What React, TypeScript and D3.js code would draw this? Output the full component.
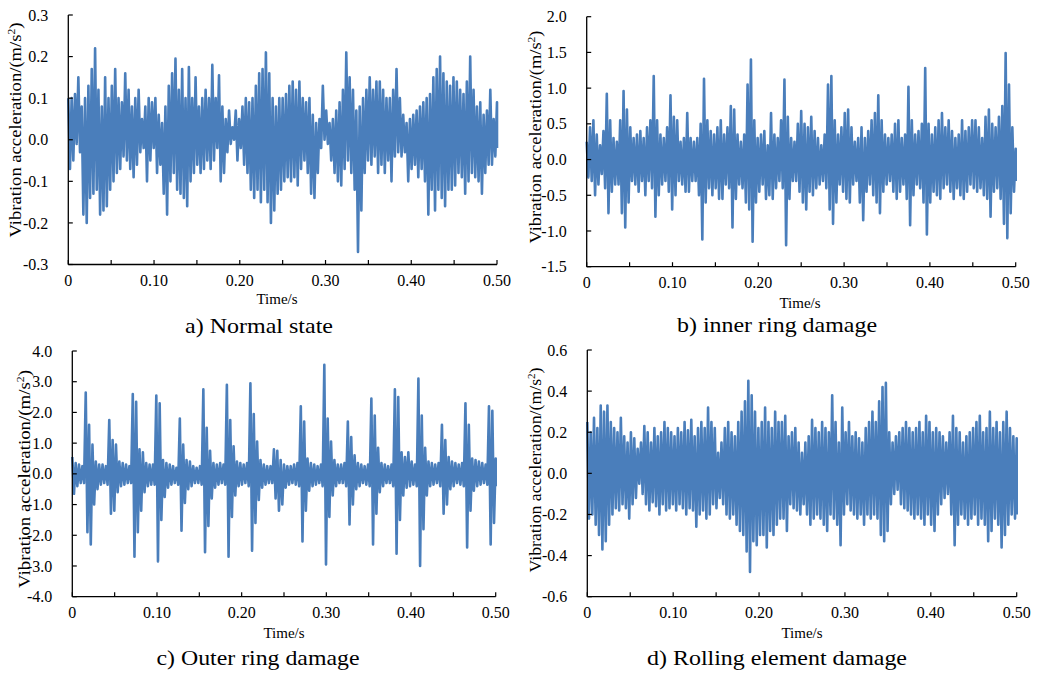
import React from "react";
import * as d3 from "d3";

// ---------- DATA (per-bin max / min envelope) ----------
const xTickValues = [0, 0.05, 0.1, 0.15, 0.2, 0.25, 0.3, 0.35, 0.4, 0.45, 0.5];
const xLabelValues = [0, 0.1, 0.2, 0.3, 0.4, 0.5];
const xLabels = ["0", "0.10", "0.20", "0.30", "0.40", "0.50"];

const yTicksA = [-0.3, -0.2, -0.1, 0, 0.1, 0.2, 0.3];
const yTicksB = [-1.5, -1.0, -0.5, 0, 0.5, 1.0, 1.5, 2.0];
const yTicksC = [-4, -3, -2, -1, 0, 1, 2, 3, 4];
const yTicksD = [-0.6, -0.4, -0.2, 0, 0.2, 0.4, 0.6];

const captions = ["a) Normal state", "b) inner ring damage", "c) Outer ring damage", "d) Rolling element damage"];
const yTitle = "Vibration acceleration/(m/s";
const xTitle = "Time/s";

const normalUpper = [
  0.10,0.10,0.11,0.15,0.08,0.10,0.13,0.17,0.22,0.12,
  0.08,0.15,0.10,0.13,0.17,0.10,0.09,0.16,0.12,0.08,
  0.10,0.12,0.05,0.08,0.10,0.09,0.10,0.06,0.04,0.08,
  0.13,0.16,0.195,0.12,0.17,0.10,0.175,0.10,0.15,0.08,
  0.10,0.12,0.10,0.18,0.10,0.155,0.08,0.05,0.07,0.03,
  0.07,0.05,0.08,0.10,0.09,0.10,0.13,0.16,0.17,0.21,
  0.16,0.10,0.08,0.10,
  0.10,0.11,0.13,0.14,0.12,0.14,0.10,0.09,0.10,0.06,
  0.04,0.05,0.13,0.07,0.04,0.05,0.07,0.09,0.12,0.21,
  0.15,0.12,0.07,0.08,0.10,0.12,0.15,0.12,0.14,0.14,
  0.12,0.10,0.10,0.12,0.17,0.10,0.06,0.04,0.05,0.06,
  0.07,0.08,0.09,0.10,0.11,0.15,0.17,0.20,0.16,0.14,
  0.13,0.15,0.14,0.12,0.11,0.14,0.20,0.12,0.08,0.09,
  0.06,0.07,0.12,0.05,0.09,
];
const normalLower = [
  -0.07,-0.05,-0.01,-0.03,-0.18,-0.20,-0.14,-0.13,-0.12,-0.18,
  -0.17,-0.16,-0.12,-0.10,-0.08,-0.07,-0.04,-0.05,-0.07,-0.09,
  -0.06,-0.03,-0.02,-0.10,-0.05,-0.02,-0.08,-0.06,-0.13,-0.18,
  -0.10,-0.08,-0.12,-0.13,-0.14,-0.16,-0.10,-0.08,-0.06,-0.08,
  -0.07,-0.05,-0.07,-0.05,-0.02,-0.10,-0.08,-0.03,-0.01,0.00,
  -0.05,-0.02,-0.06,-0.08,-0.12,-0.14,-0.12,-0.15,-0.12,-0.15,
  -0.20,-0.17,-0.13,-0.12,
  -0.10,-0.09,-0.10,-0.09,-0.11,-0.07,-0.05,-0.08,-0.13,-0.14,
  -0.08,-0.02,0.00,-0.01,-0.05,-0.08,-0.10,-0.11,-0.07,-0.05,
  -0.08,-0.12,-0.27,-0.17,-0.08,-0.05,-0.06,-0.04,-0.08,-0.06,
  -0.08,-0.05,-0.10,-0.04,-0.03,-0.04,-0.03,-0.10,-0.07,-0.06,
  -0.09,-0.07,-0.10,-0.18,-0.12,-0.17,-0.12,-0.14,-0.16,-0.12,
  -0.12,-0.11,-0.08,-0.09,-0.13,-0.10,-0.08,-0.09,-0.10,-0.13,
  -0.08,-0.06,-0.06,-0.04,-0.02,
];

const innerUpper = [
  0.25,0.45,0.55,0.35,0.20,0.40,0.92,0.55,0.30,0.25,
  0.55,0.96,0.70,0.45,0.30,0.35,0.40,0.30,0.45,0.55,
  1.17,0.55,0.35,0.30,0.45,0.90,0.60,0.55,0.25,0.30,
  0.65,0.30,0.25,0.30,0.50,1.13,0.55,0.40,0.35,0.45,
  0.55,0.35,0.45,0.75,0.70,0.35,0.25,0.35,1.05,1.40,
  0.55,0.30,0.35,0.40,0.20,0.65,0.35,0.30,
  0.55,1.12,0.60,0.30,0.25,0.50,0.68,0.50,0.45,0.60,
  0.40,0.30,0.20,0.35,1.05,1.17,0.55,0.35,0.45,0.65,
  0.70,0.45,0.25,0.30,0.45,0.30,0.40,0.55,0.65,0.90,
  0.55,0.35,0.30,0.35,0.50,0.55,0.30,0.35,1.02,0.55,
  0.35,0.40,0.50,1.28,0.50,0.35,0.45,0.55,0.65,0.45,
  0.55,0.40,0.30,0.35,0.55,0.40,0.45,0.55,0.55,0.45,
  0.30,0.60,0.70,0.50,0.45,0.60,0.75,1.49,1.05,0.45,
  0.15,
];
const innerLower = [
  -0.25,-0.30,-0.50,-0.35,-0.20,-0.40,-0.75,-0.45,-0.35,-0.35,
  -0.75,-0.95,-0.60,-0.30,-0.35,-0.45,-0.30,-0.50,-0.30,-0.40,
  -0.80,-0.50,-0.35,-0.30,-0.45,-0.70,-0.50,-0.30,-0.35,-0.45,
  -0.45,-0.30,-0.30,-0.50,-1.12,-0.60,-0.40,-0.50,-0.40,-0.55,
  -0.55,-0.35,-0.40,-0.95,-0.55,-0.35,-0.40,-0.60,-0.70,-1.15,
  -0.60,-0.45,-0.35,-0.55,-0.50,-0.55,-0.40,-0.30,
  -0.40,-1.20,-0.55,-0.30,-0.30,-0.45,-0.60,-0.70,-0.45,-0.50,
  -0.40,-0.35,-0.30,-0.40,-0.70,-0.90,-0.60,-0.35,-0.45,-0.55,
  -0.60,-0.35,-0.30,-0.60,-0.85,-0.45,-0.35,-0.50,-0.60,-0.75,
  -0.45,-0.35,-0.30,-0.45,-0.55,-0.45,-0.35,-0.55,-0.92,-0.50,
  -0.35,-0.40,-0.60,-1.05,-0.60,-0.45,-0.50,-0.55,-0.40,-0.35,
  -0.45,-0.55,-0.40,-0.50,-0.55,-0.45,-0.35,-0.40,-0.45,-0.40,
  -0.50,-0.55,-0.80,-0.45,-0.40,-0.55,-0.90,-1.10,-0.75,-0.45,
  -0.30,
];

const outerUpper = [
  0.55,0.35,0.30,0.25,2.65,1.60,0.95,0.40,0.30,0.30,
  0.25,1.75,1.10,0.95,0.40,0.35,0.30,0.25,2.60,2.35,
  0.80,0.70,0.35,0.30,0.30,2.55,2.30,0.45,0.35,0.30,
  0.25,0.20,1.80,0.95,0.45,0.40,0.25,0.20,0.25,2.75,
  1.50,0.75,0.35,0.30,0.35,0.30,2.90,1.75,0.90,0.40,
  0.35,0.30,0.35,2.95,1.95,1.05,0.45,0.30,0.25,0.25,
  0.80,0.75,
  0.45,0.30,0.25,0.25,0.30,0.35,2.20,1.70,0.50,0.35,
  0.30,0.25,0.30,3.55,1.80,1.05,0.45,0.30,0.30,0.35,
  1.70,1.20,0.60,0.35,0.30,0.25,0.30,2.45,1.90,0.85,
  0.35,0.30,0.25,0.30,2.75,2.50,0.70,0.55,0.70,0.40,
  0.30,3.10,1.90,0.85,0.40,0.35,0.30,0.35,1.60,1.10,
  0.55,0.40,0.35,0.30,0.35,2.30,1.60,0.50,0.45,0.40,
  0.35,0.30,2.20,2.05,0.50,
];
const outerLower = [
  -0.65,-0.40,-0.30,-0.30,-1.90,-2.30,-1.00,-0.50,-0.35,-0.30,
  -0.35,-1.30,-1.20,-0.60,-0.40,-0.35,-0.30,-0.30,-2.70,-1.90,
  -1.20,-0.60,-0.40,-0.35,-0.35,-2.85,-1.50,-0.75,-0.45,-0.35,
  -0.30,-0.35,-1.85,-0.95,-0.50,-0.40,-0.30,-0.30,-0.35,-2.55,
  -1.70,-0.80,-0.45,-0.35,-0.30,-0.35,-2.70,-1.40,-0.70,-0.40,
  -0.35,-0.30,-0.40,-2.50,-1.60,-0.85,-0.45,-0.35,-0.30,-0.30,
  -0.80,-1.20,
  -1.00,-0.45,-0.35,-0.30,-0.35,-0.40,-2.20,-1.20,-0.55,-0.40,
  -0.35,-0.30,-0.40,-2.95,-1.40,-0.70,-0.40,-0.30,-0.30,-0.40,
  -1.65,-1.00,-0.50,-0.40,-0.30,-0.35,-0.40,-2.30,-1.30,-0.60,
  -0.40,-0.30,-0.30,-0.40,-2.60,-1.50,-0.70,-0.45,-0.40,-0.35,
  -0.40,-3.00,-1.80,-0.70,-0.40,-0.35,-0.30,-0.40,-1.30,-1.00,
  -0.50,-0.40,-0.30,-0.35,-0.40,-2.40,-1.20,-0.55,-0.40,-0.35,
  -0.30,-0.35,-2.30,-1.60,-0.40,
];

const rollingUpper = [
  0.25,0.20,0.27,0.22,0.33,0.30,0.33,0.25,0.22,0.20,
  0.27,0.18,0.15,0.20,0.17,0.12,0.15,0.23,0.20,0.15,
  0.22,0.18,0.20,0.25,0.22,0.20,0.18,0.22,0.20,0.25,
  0.21,0.26,0.18,0.22,0.25,0.22,0.32,0.25,0.22,0.10,
  0.15,0.22,0.25,0.20,0.18,0.25,0.30,0.35,0.45,0.38,
  0.30,0.22,0.25,0.32,0.25,0.22,0.30,0.25,
  0.25,0.28,0.18,0.20,0.22,0.15,0.10,0.15,0.18,0.26,
  0.22,0.20,0.25,0.22,0.20,0.38,0.25,0.15,0.32,0.20,
  0.25,0.18,0.20,0.17,0.15,0.22,0.25,0.30,0.25,0.35,
  0.42,0.44,0.20,0.15,0.18,0.20,0.22,0.25,0.22,0.20,
  0.22,0.25,0.20,0.28,0.25,0.20,0.22,0.20,0.18,0.15,
  0.20,0.28,0.22,0.20,0.15,0.18,0.20,0.22,0.25,0.28,
  0.20,0.22,0.30,0.22,0.25,0.20,0.25,0.30,0.22,0.18,
  0.17,
];
const rollingLower = [
  -0.22,-0.20,-0.25,-0.30,-0.37,-0.33,-0.25,-0.20,-0.17,-0.18,
  -0.15,-0.17,-0.22,-0.15,-0.12,-0.05,-0.10,-0.15,-0.18,-0.14,
  -0.16,-0.20,-0.15,-0.18,-0.17,-0.15,-0.18,-0.15,-0.17,-0.20,
  -0.17,-0.18,-0.26,-0.20,-0.18,-0.22,-0.20,-0.15,-0.17,-0.12,
  -0.15,-0.20,-0.22,-0.20,-0.25,-0.28,-0.30,-0.38,-0.48,-0.33,
  -0.35,-0.30,-0.30,-0.36,-0.28,-0.30,-0.25,-0.22,
  -0.22,-0.28,-0.15,-0.17,-0.18,-0.20,-0.15,-0.20,-0.25,-0.22,
  -0.20,-0.22,-0.25,-0.28,-0.20,-0.22,-0.25,-0.35,-0.20,-0.15,
  -0.18,-0.20,-0.22,-0.20,-0.25,-0.20,-0.22,-0.20,-0.22,-0.30,
  -0.33,-0.28,-0.15,-0.10,-0.08,-0.15,-0.17,-0.18,-0.20,-0.22,
  -0.20,-0.22,-0.25,-0.20,-0.25,-0.28,-0.20,-0.15,-0.12,-0.10,
  -0.20,-0.35,-0.25,-0.20,-0.22,-0.25,-0.22,-0.20,-0.25,-0.22,
  -0.25,-0.33,-0.28,-0.22,-0.25,-0.36,-0.30,-0.25,-0.20,-0.22,
  -0.20,
];

const T_END = 0.5;

// ---------- LAYOUT ----------
type Layout = {
  x0: number; x1: number; yTop: number; yBot: number;
  titleX: number; titleY: number; titleLen: number;
  timeX: number; timeY: number;
  capX: number; capY: number; capLen: number;
};

const layouts: Layout[] = [
  { x0: 68.3, x1: 497, yTop: 15, yBot: 264.5, titleX: 15.5, titleY: 130, titleLen: 215, timeX: 277, timeY: 304, capX: 259, capY: 333, capLen: 148 },
  { x0: 586.7, x1: 1015.7, yTop: 16.7, yBot: 266.7, titleX: 535, titleY: 137, titleLen: 213, timeX: 800, timeY: 308, capX: 777, capY: 332, capLen: 200 },
  { x0: 72.3, x1: 495.7, yTop: 351, yBot: 596.7, titleX: 24, titleY: 479, titleLen: 218, timeX: 284, timeY: 638, capX: 258, capY: 665, capLen: 203 },
  { x0: 587.3, x1: 1016.7, yTop: 350, yBot: 596.7, titleX: 535, titleY: 470, titleLen: 205, timeX: 802, timeY: 638, capX: 777, capY: 665, capLen: 260 },
];

const panels = [
  { upper: normalUpper, lower: normalLower, yTicks: yTicksA, caption: captions[0] },
  { upper: innerUpper, lower: innerLower, yTicks: yTicksB, caption: captions[1] },
  { upper: outerUpper, lower: outerLower, yTicks: yTicksC, caption: captions[2] },
  { upper: rollingUpper, lower: rollingLower, yTicks: yTicksD, caption: captions[3] },
];

const FONT = "'Times New Roman', 'Liberation Serif', Times, serif";
const BLUE = "#4a7ebb";

function Panel({ p, l }: { p: typeof panels[number]; l: Layout }) {
  const x = d3.scaleLinear().domain([0, T_END]).range([l.x0, l.x1]);
  const yMin = p.yTicks[0];
  const yMax = p.yTicks[p.yTicks.length - 1];
  const y = d3.scaleLinear().domain([yMin, yMax]).range([l.yBot, l.yTop]);
  const n = p.upper.length;
  const dt = T_END / (n - 1);
  const pts: [number, number][] = [];
  for (let i = 0; i < n; i++) {
    const t = i * dt;
    pts.push([t, p.upper[i]]);
    pts.push([Math.min(T_END, t + dt / 2), p.lower[i]]);
  }
  const line = d3.line<[number, number]>().x((d) => x(d[0])).y((d) => y(d[1]));
  const fmt = (v: number) => (Math.abs(v) < 1e-9 ? "0.0" : v.toFixed(1));
  return (
    <g>
      <path d={line(pts) || ""} fill="none" stroke={BLUE} strokeWidth={2.6} strokeLinejoin="round" />
      {/* axes */}
      <line x1={l.x0} x2={l.x0} y1={l.yTop} y2={l.yBot} stroke="#000" strokeWidth={1.3} />
      <line x1={l.x0} x2={l.x1} y1={l.yBot} y2={l.yBot} stroke="#000" strokeWidth={1.3} />
      {p.yTicks.map((v) => (
        <line key={"yt" + v} x1={l.x0} x2={l.x0 + 4.5} y1={y(v)} y2={y(v)} stroke="#000" strokeWidth={1.2} />
      ))}
      {xTickValues.map((v) => (
        <line key={"xt" + v} x1={x(v)} x2={x(v)} y1={l.yBot} y2={l.yBot - 4.5} stroke="#000" strokeWidth={1.2} />
      ))}
      {p.yTicks.map((v) => (
        <text key={"yl" + v} x={l.x0 - 20} y={y(v)} dy="0.35em" textAnchor="end" fontFamily={FONT} fontSize={16} fill="#000">
          {fmt(v)}
        </text>
      ))}
      {xLabelValues.map((v, i) => (
        <text key={"xl" + v} x={x(v)} y={l.yBot + 21} textAnchor="middle" fontFamily={FONT} fontSize={16} fill="#000">
          {xLabels[i]}
        </text>
      ))}
      <text
        transform={`translate(${l.titleX},${l.titleY}) rotate(-90)`}
        textAnchor="middle"
        dy="0.35em"
        fontFamily={FONT}
        fontSize={16}
        fill="#000"
        textLength={l.titleLen}
        lengthAdjust="spacingAndGlyphs"
      >
        {yTitle}
        <tspan fontSize={10} dy="-6">2</tspan>
        <tspan dy="6">)</tspan>
      </text>
      <text x={l.timeX} y={l.timeY} textAnchor="middle" fontFamily={FONT} fontSize={15} fill="#000">
        {xTitle}
      </text>
      <text x={l.capX} y={l.capY} textAnchor="middle" fontFamily={FONT} fontSize={22} fill="#000" textLength={l.capLen} lengthAdjust="spacingAndGlyphs">
        {p.caption}
      </text>
    </g>
  );
}

export default function App() {
  return (
    <svg
      width={1038}
      height={674}
      viewBox="0 0 1038 674"
      style={{ position: "absolute", left: 0, top: 0, background: "#fff" }}
    >
      <rect x={0} y={0} width={1038} height={674} fill="#fff" />
      {panels.map((p, i) => (
        <Panel key={i} p={p} l={layouts[i]} />
      ))}
    </svg>
  );
}
